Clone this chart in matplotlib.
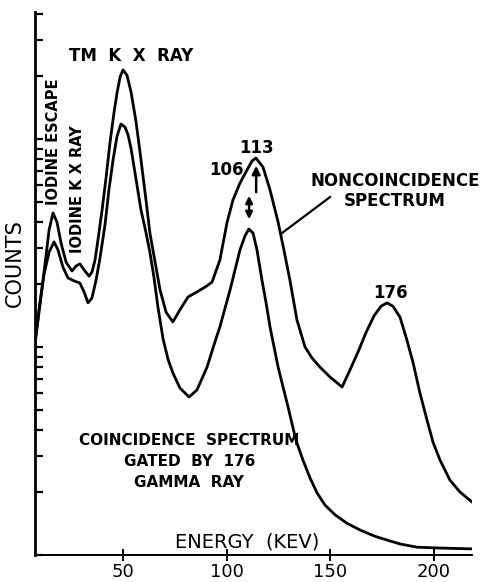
import numpy as np
import matplotlib
matplotlib.use('Agg')
from matplotlib import pyplot as plt

# Noncoincidence spectrum (upper curve), energy in keV and counts
nonc_energy = [7.5, 9.9, 12.3, 14.3, 16.2, 18.1, 20.1, 22.5, 25.4, 27.3, 29.2, 31.2, 33.6, 35.0,
               36.5, 37.9, 39.9, 41.8, 43.7, 45.7, 47.1, 48.6, 50.0, 51.9, 53.9, 56.3, 58.7, 61.1,
               63.0, 65.5, 67.9, 70.8, 74.1, 77.5, 81.4, 85.7, 89.6, 93.0, 96.8, 100.2, 103.1,
               106.5, 109.9, 112.3, 114.2, 117.6, 121.0, 124.9, 127.7, 130.6, 134.0, 137.9, 141.3,
               145.1, 150.0, 155.8, 159.6, 163.5, 167.3, 171.2, 174.6, 177.5, 180.4, 183.8, 187.1,
               190.0, 193.4, 196.8, 199.7, 203.1, 207.9, 212.7, 218.5]
nonc_counts = [10.4, 15.9, 24.8, 36.5, 44.1, 39.9, 31.6, 25.6, 23.2, 24.5, 25.1, 23.5, 21.9, 22.9,
               26.2, 32.7, 45.6, 64.9, 95.7, 135, 166, 199, 215, 203, 168, 121, 79.3, 50.9,
               35.3, 25.6, 18.8, 14.7, 13.2, 15.1, 17.4, 18.4, 19.4, 20.5, 26.2, 39.5, 50.9,
               61.4, 71.0, 78.4, 81.0, 73.3, 56.9, 39.9, 29.3, 21.0, 13.5, 10.0, 8.85,
               8.01, 7.17, 6.42, 7.75, 9.46, 11.7, 14.1, 15.7, 16.3, 15.7, 13.9, 10.8,
               8.47, 6.01, 4.46, 3.49, 2.86, 2.29, 2.01, 1.80]

# Coincidence spectrum gated by the 176 keV gamma ray (lower curve)
coin_energy = [7.5, 9.4, 11.8, 14.3, 16.7, 18.6, 21.0, 23.4, 26.3, 29.2, 31.2, 33.1, 35.0, 37.0,
               38.9, 41.3, 43.2, 45.2, 47.1, 49.0, 51.0, 52.4, 53.9, 56.3, 58.7, 61.1, 63.0, 65.0,
               66.9, 69.3, 71.7, 74.1, 77.5, 81.9, 85.7, 90.6, 93.9, 96.8, 101.7, 106.5, 108.9,
               110.8, 112.8, 114.7, 117.1, 119.1, 121.0, 124.9, 129.7, 133.5, 136.9, 140.3, 143.7,
               147.5, 152.4, 158.2, 164.4, 171.7, 177.5, 183.8, 192.0, 203.1, 218.5]
coin_counts = [10.4, 15.1, 22.2, 28.6, 32.0, 29.3, 24.2, 21.5, 20.8, 20.3, 18.4, 16.3, 17.2, 21.0,
               26.8, 38.6, 56.9, 79.3, 103, 118, 114, 105, 90.0, 64.0, 45.5, 35.5, 28.5, 21.5,
               15.5, 11.0, 8.75, 7.50, 6.35, 5.75, 6.21, 8.01, 10.2, 12.5, 18.8, 29.3, 34.2,
               36.9, 35.3, 29.3, 21.0, 16.3, 12.5, 8.01, 5.15, 3.57, 2.86, 2.35, 1.99,
               1.74, 1.56, 1.42, 1.32, 1.23, 1.18, 1.13, 1.09, 1.08, 1.07]

x_ticks = [50, 100, 150, 200]

fig = plt.figure(figsize=(4.86, 5.82), dpi=100)
ax = fig.add_axes([0.072, 0.0464, 0.899, 0.933])

ax.plot(nonc_energy, nonc_counts, color='black', lw=2.0, solid_joinstyle='round')
ax.plot(coin_energy, coin_counts, color='black', lw=2.0, solid_joinstyle='round')

ax.set_yscale('log')
ax.set_xlim(7.5, 218.5)
ax.set_ylim(1, 408)

for s in ['top', 'right']:
    ax.spines[s].set_visible(False)
ax.spines['left'].set_linewidth(2.0)
ax.spines['bottom'].set_linewidth(1.4)

ax.set_xticks(x_ticks)
ax.set_xticklabels([str(t) for t in x_ticks], fontsize=13)
ax.tick_params(axis='x', direction='inout', length=8, width=1.4, pad=2)
ax.tick_params(axis='y', which='both', direction='in', length=6, width=1.6,
               labelleft=False)

txt = dict(color='black', fontweight='bold', ha='center', va='center')

ax.text(53.9, 250, 'TM  K  X  RAY', fontsize=12, **txt)
ax.text(16.5, 97, 'IODINE ESCAPE', fontsize=10.5, rotation=90, **txt)
ax.text(27.8, 57.5, 'IODINE K X RAY', fontsize=10.5, rotation=90, **txt)
ax.text(99.8, 71.0, '106', fontsize=12, **txt)
ax.text(114.3, 90.5, '113', fontsize=12, **txt)
ax.text(179.0, 18.2, '176', fontsize=12, **txt)
ax.text(181.4, 56.2, 'NONCOINCIDENCE\nSPECTRUM', fontsize=12, linespacing=1.1, **txt)
ax.text(82, 2.8, 'COINCIDENCE  SPECTRUM\nGATED  BY  176\nGAMMA  RAY', fontsize=11,
        linespacing=1.5, **txt)
ax.text(109.9, 1.155, 'ENERGY  (KEV)', fontsize=14, color='black', ha='center', va='center')
fig.text(15 / 486, 1 - 263 / 582, 'COUNTS', fontsize=15, rotation=90, ha='center', va='center')

# arrows marking the 113 and 106 peaks
ax.annotate('', xy=(114.3, 76.7), xytext=(114.3, 53.8),
            arrowprops=dict(arrowstyle='-|>', color='black', lw=1.8, mutation_scale=12))
ax.annotate('', xy=(110.9, 55.0), xytext=(110.9, 39.9),
            arrowprops=dict(arrowstyle='<|-|>', color='black', lw=1.8, mutation_scale=10))
# leader line to the noncoincidence curve
ax.plot([150, 126.8], [52.6, 35.3], color='black', lw=1.6)

fig.savefig('out.png', dpi=100)
